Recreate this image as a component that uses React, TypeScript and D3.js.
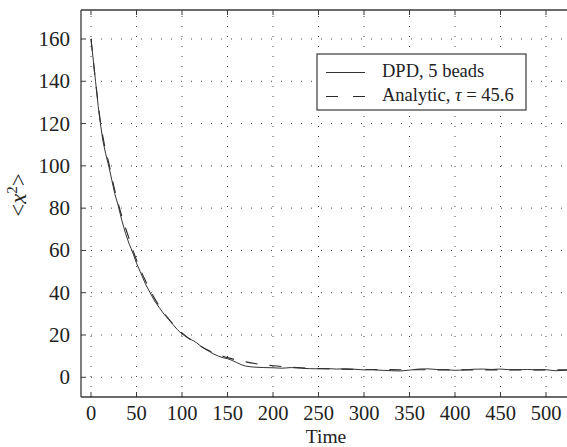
import React from "react";
import * as d3 from "d3";

const dpdTime = [0, 3, 5, 8, 10, 13, 16, 20, 23, 26, 30, 34, 38, 42, 45, 50, 55, 60, 65, 70, 75, 80, 85, 90, 95, 100, 105, 110, 113, 116, 120, 125, 130, 135, 140, 145, 150, 155, 160, 165, 170, 175, 180, 190, 200, 210, 220, 230, 240, 250, 260, 270, 280, 290, 300, 310, 320, 330, 340, 350, 360, 370, 380, 390, 400, 410, 420, 430, 440, 450, 460, 470, 480, 490, 500, 510, 520, 525];
const dpdValue = [160, 148, 140, 128, 121, 112, 106, 99, 93, 87, 81, 74, 68, 63, 60, 54, 49, 44, 40, 36, 33, 30, 27.5, 25, 22.5, 20.5, 19, 17.8, 17.2, 16.3, 15, 13.5, 12.2, 11, 10, 9.3, 8.8, 8, 7, 6, 5.3, 5, 4.8, 4.6, 4.5, 4.3, 4.6, 4.3, 4.1, 4.0, 4.1, 3.9, 4.0, 3.8, 3.5, 3.6, 3.3, 3.1, 3.0, 3.4, 3.9, 4.0, 3.7, 3.6, 3.3, 3.5, 3.8, 3.9, 3.7, 3.9, 3.6, 3.6, 3.7, 3.5, 3.6, 3.1, 3.3, 3.4];

const fitTime = [0, 5, 10, 15, 20, 25, 30, 35, 40, 45, 50, 60, 70, 80, 90, 100, 110, 120, 130, 140, 150, 160, 170, 180, 200, 220, 250, 300, 350, 400, 450, 525];
const fitValue = [160, 140, 122, 109.5, 100.5, 90.5, 82, 74.5, 68, 61.5, 55.5, 45.5, 37.2, 30.6, 25.3, 21, 17.6, 14.8, 12.5, 10.8, 9.3, 8.2, 7.3, 6.5, 5.45, 4.8, 4.15, 3.7, 3.57, 3.52, 3.5, 3.5];

const xTicks = [0, 50, 100, 150, 200, 250, 300, 350, 400, 450, 500];
const yTicks = [0, 20, 40, 60, 80, 100, 120, 140, 160];

const legendLabels = ["DPD, 5 beads", "Analytic, "];

const W = 567;
const H = 447;
const FONT = "'Liberation Serif', 'Times New Roman', serif";

export default function App() {
  const left = 81;
  const top = 10;
  const bottom = 397;
  const right = 567;
  const x = d3.scaleLinear().domain([0, 500]).range([91, 546]);
  const y = d3.scaleLinear().domain([0, 160]).range([377.3, 39]);

  const dpdLine = d3
    .line<number>()
    .x((_, i) => x(dpdTime[i]))
    .y((d) => y(d));
  const fitLine = d3
    .line<number>()
    .x((_, i) => x(fitTime[i]))
    .y((d) => y(d))
    .curve(d3.curveMonotoneX);

  const axisColor = "#3a3a3a";
  const gridColor = "#444";

  return (
    <div style={{ position: "fixed", left: 0, top: 0, width: W, height: H, background: "#fff" }}>
      <svg width={W} height={H} style={{ display: "block" }}>
        <defs>
          <clipPath id="plotclip">
            <rect x={left} y={top} width={right - left} height={bottom - top} />
          </clipPath>
        </defs>
        <rect x={0} y={0} width={W} height={H} fill="#fff" />
        {/* grid */}
        <g stroke={gridColor} strokeWidth={1} strokeDasharray="1,9" fill="none">
          {xTicks.map((t) => (
            <line key={"gx" + t} x1={x(t)} x2={x(t)} y1={bottom} y2={top} />
          ))}
          {yTicks.map((t) => (
            <line key={"gy" + t} x1={left} x2={right} y1={y(t)} y2={y(t)} />
          ))}
        </g>
        {/* curves */}
        <g clipPath="url(#plotclip)" fill="none">
          <path d={fitLine(fitValue) || ""} stroke="#2a2a2a" strokeWidth={1.1} strokeDasharray="12,12" />
          <path d={dpdLine(dpdValue) || ""} stroke="#333" strokeWidth={1} strokeLinejoin="round" />
        </g>
        {/* axes box */}
        <g stroke={axisColor} strokeWidth={1.3} fill="none">
          <line x1={left} x2={right} y1={top} y2={top} />
          <line x1={left} x2={right} y1={bottom} y2={bottom} />
          <line x1={left} x2={left} y1={top} y2={bottom} />
        </g>
        {/* ticks */}
        <g stroke={axisColor} strokeWidth={1}>
          {xTicks.map((t) => (
            <g key={"tx" + t}>
              <line x1={x(t)} x2={x(t)} y1={bottom} y2={bottom - 5} />
              <line x1={x(t)} x2={x(t)} y1={top} y2={top + 5} />
            </g>
          ))}
          {yTicks.map((t) => (
            <line key={"ty" + t} x1={left} x2={left + 5} y1={y(t)} y2={y(t)} />
          ))}
        </g>
        {/* tick labels */}
        <g fontFamily={FONT} fontSize={21} fill="#222">
          {xTicks.map((t) => (
            <text key={"lx" + t} x={x(t)} y={420} fontSize={20.5} textAnchor="middle">
              {t}
            </text>
          ))}
          {yTicks.map((t) => (
            <text key={"ly" + t} x={70} y={y(t) + 7} textAnchor="end">
              {t}
            </text>
          ))}
          <text x={326} y={442.5} fontSize={19.5} textAnchor="middle">
            Time
          </text>
          <text transform="translate(26,195) rotate(-90)" textAnchor="middle" fontSize={23}>
            <tspan>{"<"}</tspan>
            <tspan fontStyle="italic">x</tspan>
            <tspan fontSize={15} dy={-9}>2</tspan>
            <tspan dy={9}>{">"}</tspan>
          </text>
        </g>
        {/* legend */}
        <g>
          <rect x={317} y={54} width={209} height={56} fill="#fff" stroke={axisColor} strokeWidth={1.2} />
          <line x1={326} x2={365} y1={72.5} y2={72.5} stroke="#333" strokeWidth={1} />
          <line x1={326} x2={365} y1={96.5} y2={96.5} stroke="#2a2a2a" strokeWidth={1.1} strokeDasharray="12,15" />
          <g fontFamily={FONT} fontSize={18.5} fill="#222">
            <text x={382} y={77}>{legendLabels[0]}</text>
            <text x={382} y={101}>
              {legendLabels[1]}
              <tspan fontStyle="italic">τ</tspan>
              <tspan>{" = 45.6"}</tspan>
            </text>
          </g>
        </g>
      </svg>
    </div>
  );
}
